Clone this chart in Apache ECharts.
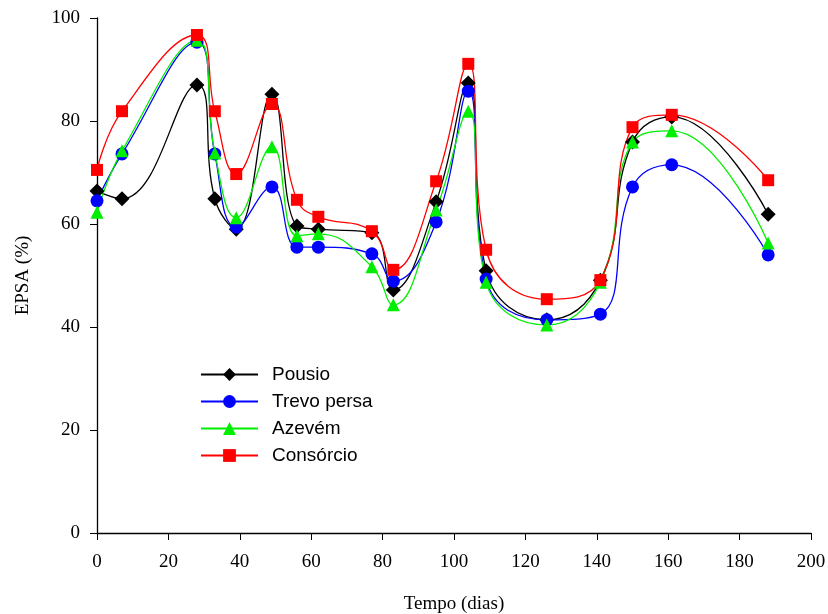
<!DOCTYPE html>
<html><head><meta charset="utf-8">
<script src="https://cdn.jsdelivr.net/npm/echarts@6/dist/echarts.min.js"></script>
<style>html,body{margin:0;padding:0;background:#fff}#c{width:828px;height:614px}</style>
</head><body><div id="c"></div>
<script>
const days = [0, 7, 28, 33, 39, 49, 56, 62, 77, 83, 95, 104, 109, 126, 141, 150, 161, 188];
const pousio = [66.4, 64.9, 87.0, 64.9, 59.0, 85.2, 59.6, 59.0, 58.3, 47.2, 64.3, 87.4, 50.9, 41.4, 49.1, 75.9, 80.8, 61.9];
const trevo = [64.5, 73.6, 95.3, 73.6, 59.4, 67.2, 55.5, 55.5, 54.2, 48.9, 60.4, 85.8, 49.3, 41.4, 42.5, 67.2, 71.5, 54.0];
const azevem = [62.3, 74.2, 95.7, 73.8, 61.2, 75.0, 57.7, 58.1, 51.7, 44.3, 62.7, 81.9, 48.7, 40.4, 48.7, 75.9, 78.1, 56.3];
const consorcio = [70.5, 81.9, 96.7, 81.9, 69.7, 83.3, 64.7, 61.4, 58.6, 51.1, 68.3, 91.1, 55.0, 45.4, 49.1, 78.8, 81.2, 68.5];
const seriesNames = ['Pousio', 'Trevo persa', 'Azevém', 'Consórcio'];

const pair = arr => days.map((d, i) => [d, arr[i]]);
const chart = echarts.init(document.getElementById('c'));
const mk = (name, arr, color, symbol, size) => ({
  name, type: 'line', data: pair(arr), smooth: 0.45,
  symbol, symbolSize: size,
  lineStyle: { color, width: 1.3 },
  itemStyle: { color },
  showAllSymbol: true
});
const serif = '"Liberation Serif", "Times New Roman", serif';
chart.setOption({
  animation: false,
  backgroundColor: '#fff',
  grid: { left: 97, right: 17, top: 18, bottom: 81, outerBoundsMode: 'none', containLabel: false },
  legend: {
    left: 195, top: 360, orient: 'vertical',
    itemWidth: 57, itemHeight: 16, itemGap: 8,
    textStyle: { fontFamily: '"Liberation Sans", Arial, sans-serif', fontSize: 19, color: '#000', padding: [0,0,0,9] },
    data: seriesNames
  },
  xAxis: {
    type: 'value', min: 0, max: 200, interval: 20,
    name: 'Tempo (dias)', nameLocation: 'middle', nameGap: 62,
    nameTextStyle: { fontFamily: serif, fontSize: 19, color: '#000' },
    axisLine: { onZero: false, lineStyle: { color: '#000', width: 1.3 } },
    axisTick: { show: true, inside: false, length: 7, lineStyle: { color: '#000' } },
    axisLabel: { fontFamily: serif, fontSize: 19, color: '#000', margin: 20 },
    splitLine: { show: false }
  },
  yAxis: {
    type: 'value', min: 0, max: 100, interval: 20,
    name: 'EPSA (%)', nameLocation: 'middle', nameGap: 64,
    nameTextStyle: { fontFamily: serif, fontSize: 19, color: '#000' },
    axisLine: { show: true, lineStyle: { color: '#000', width: 1.3 } },
    axisTick: { show: true, inside: false, length: 7, lineStyle: { color: '#000' } },
    axisLabel: { fontFamily: serif, fontSize: 19, color: '#000', margin: 17 },
    splitLine: { show: false }
  },
  series: [
    mk(seriesNames[0], pousio, '#000000', 'diamond', 15),
    mk(seriesNames[1], trevo, '#0000ff', 'circle', 13),
    mk(seriesNames[2], azevem, '#00ee00', 'triangle', 13),
    mk(seriesNames[3], consorcio, '#ff0000', 'rect', 12)
  ]
});
</script></body></html>
